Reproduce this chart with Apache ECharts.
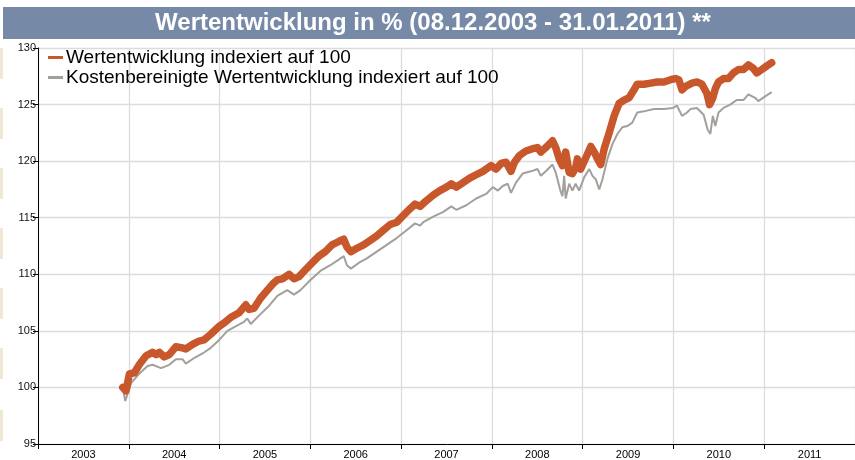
<!DOCTYPE html>
<html>
<head>
<meta charset="utf-8">
<script src="https://cdn.jsdelivr.net/npm/echarts@6/dist/echarts.min.js"></script>
<style>
html,body{margin:0;padding:0;background:#fff;}
#chart{width:855px;height:460px;}
</style>
</head>
<body>
<div id="chart"></div>
<script>
const titleText = 'Wertentwicklung in % (08.12.2003 - 31.01.2011) **';
const seriesNames = ['Wertentwicklung indexiert auf 100', 'Kostenbereinigte Wertentwicklung indexiert auf 100'];
const yearLabels = ['2003','2004','2005','2006','2007','2008','2009','2010','2011'];
const yTicks = [95, 100, 105, 110, 115, 120, 125, 130];

const fundDates = [
'2003-12-08','2003-12-21','2004-01-04','2004-01-24','2004-02-12','2004-03-11','2004-04-06','2004-04-20','2004-05-03','2004-05-23',
'2004-06-12','2004-07-09','2004-08-04','2004-08-18','2004-09-14','2004-10-10','2004-10-30','2004-11-26','2004-12-30','2005-01-19',
'2005-02-15','2005-03-20','2005-04-16','2005-04-29','2005-05-19','2005-06-15','2005-07-12','2005-08-05','2005-08-21','2005-09-10',
'2005-10-07','2005-10-27','2005-11-16','2005-12-12','2006-01-08','2006-02-04','2006-03-02','2006-03-29','2006-04-25','2006-05-15',
'2006-05-28','2006-06-13','2006-07-07','2006-08-03','2006-08-30','2006-09-25','2006-10-22','2006-11-18','2006-12-14','2007-01-10',
'2007-02-06','2007-02-26','2007-03-18','2007-04-07','2007-05-10','2007-06-06','2007-07-02','2007-07-22','2007-08-11','2007-09-07',
'2007-10-04','2007-10-30','2007-11-26','2007-12-29','2008-01-18','2008-02-07','2008-02-27','2008-03-18','2008-04-01','2008-04-21',
'2008-05-17','2008-06-13','2008-07-03','2008-07-16','2008-08-05','2008-09-01','2008-09-14','2008-09-28','2008-10-04','2008-10-11',
'2008-10-24','2008-11-07','2008-11-20','2008-12-03','2008-12-10','2008-12-23','2009-01-13','2009-02-02','2009-02-16','2009-03-01',
'2009-03-14','2009-03-28','2009-04-17','2009-05-07','2009-05-27','2009-06-16','2009-07-06','2009-07-26','2009-08-08','2009-09-04',
'2009-10-01','2009-10-27','2009-11-23','2009-12-20','2010-01-09','2010-01-22','2010-02-04','2010-02-18','2010-03-16','2010-04-05',
'2010-04-25','2010-05-15','2010-05-26','2010-06-08','2010-06-18','2010-07-01','2010-07-21','2010-08-10','2010-08-30','2010-09-19',
'2010-10-09','2010-10-29','2010-11-18','2010-12-02','2010-12-22','2011-01-10','2011-01-31'
];
const fundValues = [
100.0, 99.7, 101.2, 101.3, 102.0, 102.8, 103.1, 102.9, 103.1, 102.7,
102.9, 103.6, 103.5, 103.4, 103.8, 104.1, 104.2, 104.7, 105.4, 105.7,
106.2, 106.6, 107.3, 106.9, 107.0, 107.9, 108.6, 109.2, 109.5, 109.6,
110.0, 109.6, 109.8, 110.4, 111.0, 111.6, 112.0, 112.6, 112.9, 113.1,
112.4, 112.0, 112.3, 112.6, 113.0, 113.4, 113.9, 114.4, 114.6, 115.2,
115.8, 116.2, 116.0, 116.4, 117.0, 117.4, 117.7, 118.0, 117.7, 118.1,
118.5, 118.8, 119.1, 119.6, 119.3, 119.8, 119.9, 119.1, 119.9, 120.5,
120.9, 121.1, 121.2, 120.8, 121.2, 121.8, 121.2, 120.2, 120.2, 119.6,
120.8, 119.0, 118.9, 119.4, 120.2, 119.3, 120.3, 121.3, 120.8, 120.2,
119.7, 121.1, 122.5, 124.0, 125.1, 125.4, 125.6, 126.3, 126.8, 126.8,
126.9, 127.0, 127.0, 127.2, 127.3, 127.2, 126.3, 126.6, 126.9, 127.0,
126.8, 126.0, 125.0, 125.6, 126.4, 127.0, 127.3, 127.3, 127.8, 128.1,
128.1, 128.5, 128.2, 127.8, 128.1, 128.4, 128.7
];

const netDates = [
'2003-12-08','2003-12-18','2004-01-11','2004-02-12','2004-03-17','2004-04-06','2004-05-10','2004-06-12','2004-07-09','2004-08-04',
'2004-08-18','2004-09-20','2004-10-24','2004-11-26','2004-12-30','2005-02-01','2005-03-06','2005-04-09','2005-04-22','2005-05-06',
'2005-06-15','2005-07-18','2005-08-21','2005-09-30','2005-10-27','2005-11-22','2006-01-01','2006-02-10','2006-03-22','2006-04-25',
'2006-05-15','2006-05-28','2006-06-13','2006-07-14','2006-08-16','2006-09-25','2006-11-04','2006-12-14','2007-01-23','2007-02-26',
'2007-03-18','2007-03-31','2007-05-10','2007-06-18','2007-07-22','2007-08-11','2007-09-20','2007-10-30','2007-12-09','2008-01-05',
'2008-01-25','2008-02-14','2008-03-05','2008-03-18','2008-04-07','2008-05-04','2008-06-06','2008-07-03','2008-07-16','2008-08-05',
'2008-09-01','2008-09-14','2008-09-28','2008-10-04','2008-10-11','2008-10-18','2008-10-24','2008-11-07','2008-11-20','2008-12-03',
'2008-12-17','2009-01-07','2009-01-27','2009-02-09','2009-02-22','2009-03-08','2009-03-21','2009-04-10','2009-04-30','2009-05-20',
'2009-06-09','2009-06-29','2009-07-19','2009-08-08','2009-09-04','2009-10-14','2009-11-23','2009-12-30','2010-01-15','2010-02-04',
'2010-02-24','2010-03-10','2010-04-05','2010-05-02','2010-05-18','2010-05-29','2010-06-08','2010-06-18','2010-07-01','2010-07-21',
'2010-08-17','2010-09-12','2010-10-09','2010-10-29','2010-11-25','2010-12-08','2011-01-03','2011-01-31'
];
const netValues = [
100.0, 98.8, 100.4, 101.2, 101.9, 102.0, 101.7, 102.0, 102.5, 102.5,
102.1, 102.6, 103.0, 103.5, 104.2, 105.0, 105.4, 105.8, 106.1, 105.6,
106.5, 107.2, 108.1, 108.6, 108.2, 108.6, 109.5, 110.3, 110.8, 111.3,
111.6, 110.8, 110.5, 111.0, 111.4, 112.0, 112.6, 113.2, 113.9, 114.5,
114.3, 114.6, 115.1, 115.5, 116.0, 115.7, 116.1, 116.7, 117.1, 117.7,
117.4, 117.8, 118.0, 117.2, 118.1, 118.9, 119.1, 119.3, 118.7, 119.1,
119.7, 119.0, 117.8, 117.3, 116.9, 118.7, 116.7, 118.0, 117.4, 118.0,
117.4, 118.6, 119.3, 118.7, 118.4, 117.5, 118.4, 120.2, 121.5, 122.4,
123.0, 123.1, 123.4, 124.3, 124.4, 124.6, 124.6, 124.7, 124.9, 124.0,
124.3, 124.6, 124.7, 124.1, 122.8, 122.4, 124.0, 123.1, 124.3, 124.7,
125.0, 125.4, 125.4, 125.9, 125.6, 125.3, 125.7, 126.1
];

const fundData = fundDates.map((d, i) => [d, fundValues[i]]);
const netData = netDates.map((d, i) => [d, netValues[i]]);

const chart = echarts.init(document.getElementById('chart'), null, {renderer: 'canvas'});

const stripes = [48, 108, 168, 228, 288, 348, 410].map(y => ({
  type: 'rect', shape: {x: 0, y: y, width: 3, height: 31}, style: {fill: '#F1E8D4'}, silent: true
}));

chart.setOption({
  animation: false,
  backgroundColor: '#ffffff',
  graphic: stripes.concat([
    {type: 'rect', shape: {x: 3, y: 7, width: 852, height: 32}, style: {fill: '#768AA8'}, z: 10},
    {type: 'text', x: 433, y: 23, z: 11,
     style: {text: titleText, fill: '#ffffff', font: 'bold 24px "Liberation Sans", Arial, sans-serif',
             textAlign: 'center', textVerticalAlign: 'middle'}}
  ]),
  legend: {
    orient: 'vertical', left: 43, top: 43, itemWidth: 15, itemHeight: 3, itemGap: 1,
    icon: 'rect',
    textStyle: {fontSize: 19, color: '#000', fontFamily: '"Liberation Sans", Arial, sans-serif', padding: [0,0,0,-2]},
    data: seriesNames
  },
  grid: {left: 38, right: -3, top: 48, bottom: 13, containLabel: false},
  xAxis: [
    {type: 'time', min: '2003-01-01', max: '2012-01-01', show: false},
    {type: 'category', data: yearLabels, boundaryGap: true, position: 'bottom',
     axisLine: {show: true, onZero: false, lineStyle: {color: '#000', width: 1}},
     axisTick: {show: true, length: 5, interval: 0, lineStyle: {color: '#000'}},
     axisLabel: {interval: 0, margin: 5, fontSize: 11, color: '#000', fontFamily: '"Liberation Sans", Arial, sans-serif'},
     splitLine: {show: true, interval: 0, lineStyle: {color: '#dcdcdc', width: 1.3}}}
  ],
  yAxis: {
    type: 'value', min: yTicks[0], max: yTicks[yTicks.length - 1], interval: 5,
    axisLine: {show: true, lineStyle: {color: '#000', width: 1}},
    axisTick: {show: true, length: 5, lineStyle: {color: '#000'}},
    axisLabel: {margin: 2, fontSize: 11, color: '#111', fontFamily: '"Liberation Sans", Arial, sans-serif'},
    splitLine: {show: true, lineStyle: {color: '#dcdcdc', width: 1.3}}
  },
  series: [
    {name: seriesNames[1], type: 'line', xAxisIndex: 0, data: netData, showSymbol: false, symbol: 'none',
     lineStyle: {color: '#A39F9B', width: 2}, itemStyle: {color: '#A39F9B'}, z: 3},
    {name: seriesNames[0], type: 'line', xAxisIndex: 0, data: fundData, showSymbol: false, symbol: 'none',
     lineStyle: {color: '#C9572C', width: 7.5, cap: 'round', join: 'round'}, itemStyle: {color: '#C9572C'}, z: 4}
  ]
});
</script>
</body>
</html>
